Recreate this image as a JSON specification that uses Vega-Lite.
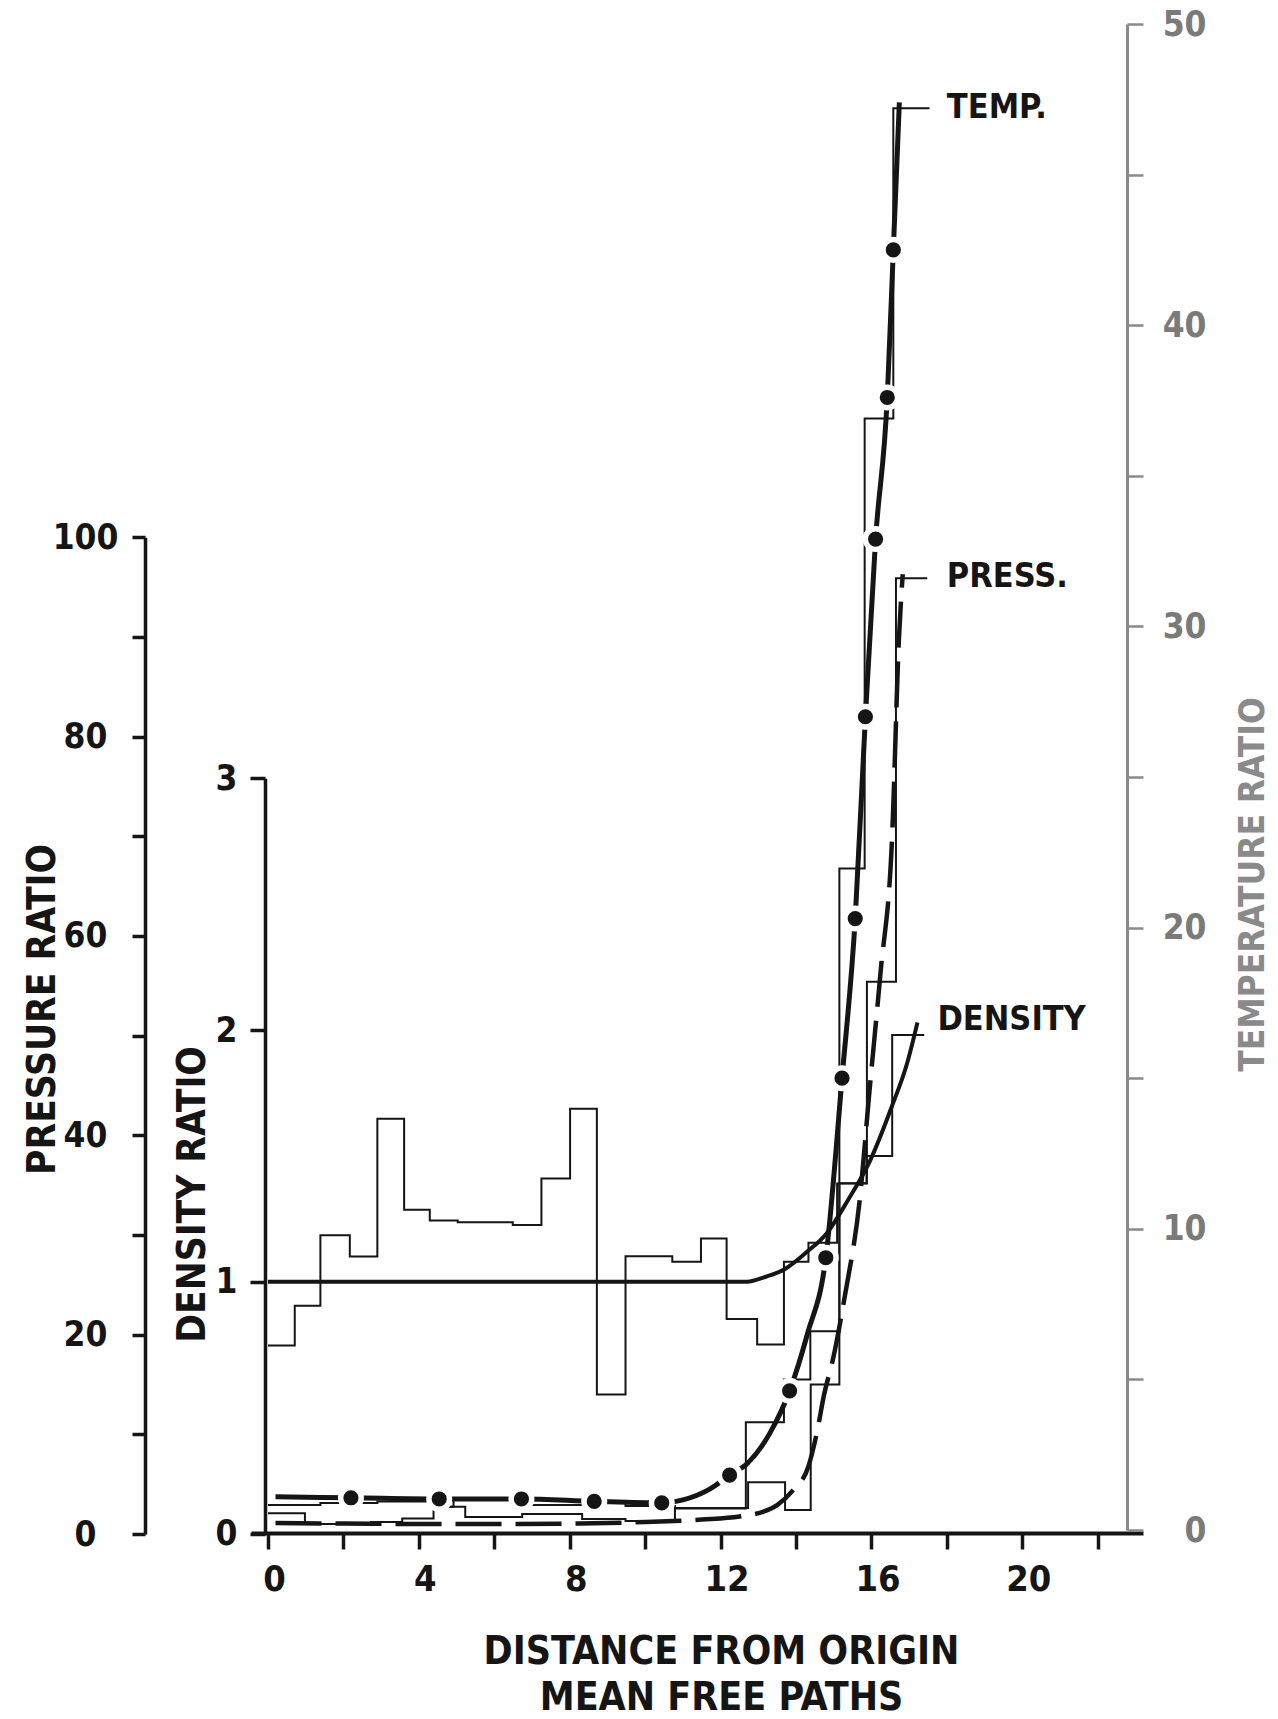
{
  "$schema": "https://vega.github.io/schema/vega-lite/v6.json",
  "width": 859,
  "height": 1509,
  "autosize": {"type": "none"},
  "padding": {"left": 268, "top": 24, "right": 151, "bottom": 186},
  "background": "white",
  "config": {
    "view": {"stroke": null},
    "axis": {"grid": false, "labelFont": "DejaVu Sans Condensed, DejaVu Sans", "titleFont": "DejaVu Sans Condensed, DejaVu Sans", "labelOverlap": false, "labelFlush": false, "labelBound": false},
    "text": {"font": "DejaVu Sans Condensed, DejaVu Sans"}
  },
  "datasets": {
    "densityHist": [
      {"x": 0, "v": 0.747}, {"x": 0.71, "v": 0.905}, {"x": 1.39, "v": 1.185}, {"x": 2.17, "v": 1.10},
      {"x": 2.90, "v": 1.648}, {"x": 3.61, "v": 1.286}, {"x": 4.29, "v": 1.243}, {"x": 5.03, "v": 1.236},
      {"x": 6.49, "v": 1.226}, {"x": 7.25, "v": 1.41}, {"x": 8.01, "v": 1.687}, {"x": 8.72, "v": 0.552},
      {"x": 9.48, "v": 1.101}, {"x": 10.72, "v": 1.08}, {"x": 11.48, "v": 1.172}, {"x": 12.16, "v": 0.852},
      {"x": 12.97, "v": 0.751}, {"x": 13.68, "v": 1.08}, {"x": 14.33, "v": 1.155}, {"x": 15.09, "v": 1.39},
      {"x": 15.87, "v": 1.50}, {"x": 16.55, "v": 1.98}, {"x": 17.4, "v": 1.98}
    ],
    "densityCurve": [
      {"x": 0, "v": 1.0}, {"x": 3, "v": 1.0}, {"x": 6, "v": 1.0}, {"x": 9, "v": 1.0}, {"x": 12, "v": 1.0},
      {"x": 12.7, "v": 1.0}, {"x": 13.2, "v": 1.02}, {"x": 13.7, "v": 1.05}, {"x": 14.3, "v": 1.12},
      {"x": 14.8, "v": 1.19}, {"x": 15.4, "v": 1.33}, {"x": 15.93, "v": 1.47}, {"x": 16.55, "v": 1.70},
      {"x": 16.95, "v": 1.87}, {"x": 17.22, "v": 2.03}
    ],
    "densityLabel": [{"x": 17.75, "v": 2.04, "label": "DENSITY"}],
    "pressureHist": [
      {"x": 0, "v": 2.07}, {"x": 0.98, "v": 1.0}, {"x": 2.73, "v": 1.2}, {"x": 3.56, "v": 1.55},
      {"x": 4.39, "v": 2.74}, {"x": 5.23, "v": 1.7}, {"x": 6.74, "v": 2.0}, {"x": 8.33, "v": 1.5},
      {"x": 9.48, "v": 1.3}, {"x": 10.79, "v": 2.6}, {"x": 12.73, "v": 5.2}, {"x": 13.71, "v": 2.4},
      {"x": 14.39, "v": 15.0}, {"x": 15.15, "v": 35.2}, {"x": 15.88, "v": 55.4}, {"x": 16.65, "v": 95.9},
      {"x": 17.48, "v": 95.9}
    ],
    "pressureCurve": [
      {"x": 0.2, "v": 1.1}, {"x": 2, "v": 1.05}, {"x": 4, "v": 1.0}, {"x": 6, "v": 1.0}, {"x": 8, "v": 1.05},
      {"x": 10, "v": 1.2}, {"x": 11.5, "v": 1.45}, {"x": 12.5, "v": 1.75}, {"x": 13.1, "v": 2.2},
      {"x": 13.5, "v": 2.9}, {"x": 13.9, "v": 4.3}, {"x": 14.33, "v": 6.8}, {"x": 14.56, "v": 10.3},
      {"x": 14.74, "v": 13.9}, {"x": 14.99, "v": 17.7}, {"x": 15.3, "v": 24.0}, {"x": 15.7, "v": 33.9},
      {"x": 15.93, "v": 43.7}, {"x": 16.24, "v": 56.3}, {"x": 16.55, "v": 70.1}, {"x": 16.73, "v": 89.9},
      {"x": 16.83, "v": 96.3}
    ],
    "pressureLabel": [{"x": 18.0, "v": 96.0, "label": "PRESS."}],
    "tempHist": [
      {"x": 0, "v": 0.83}, {"x": 1.39, "v": 0.9}, {"x": 2.9, "v": 0.95}, {"x": 4.39, "v": 0.77},
      {"x": 4.92, "v": 1.0}, {"x": 6.74, "v": 0.83}, {"x": 8.33, "v": 0.9}, {"x": 9.48, "v": 0.8},
      {"x": 10.79, "v": 0.71}, {"x": 12.67, "v": 3.58}, {"x": 13.68, "v": 5.0}, {"x": 14.38, "v": 6.6},
      {"x": 15.15, "v": 21.96}, {"x": 15.82, "v": 36.9}, {"x": 16.58, "v": 47.2}, {"x": 17.54, "v": 47.2}
    ],
    "tempCurve": [
      {"x": 0.2, "v": 1.10}, {"x": 2.2, "v": 1.07}, {"x": 4.54, "v": 1.03}, {"x": 6.72, "v": 1.03},
      {"x": 8.65, "v": 0.95}, {"x": 10.44, "v": 0.9}, {"x": 11.0, "v": 1.0}, {"x": 11.7, "v": 1.35},
      {"x": 12.24, "v": 1.82}, {"x": 12.7, "v": 2.2}, {"x": 13.3, "v": 3.2}, {"x": 13.83, "v": 4.62},
      {"x": 14.3, "v": 6.5}, {"x": 14.79, "v": 9.04}, {"x": 15.22, "v": 15.0}, {"x": 15.57, "v": 20.3},
      {"x": 15.84, "v": 27.0}, {"x": 16.11, "v": 32.9}, {"x": 16.42, "v": 37.6}, {"x": 16.58, "v": 42.5},
      {"x": 16.74, "v": 47.4}
    ],
    "tempPoints": [
      {"x": 2.2, "v": 1.07}, {"x": 4.54, "v": 1.03}, {"x": 6.72, "v": 1.03}, {"x": 8.65, "v": 0.95},
      {"x": 10.44, "v": 0.9}, {"x": 12.24, "v": 1.82}, {"x": 13.83, "v": 4.62}, {"x": 14.79, "v": 9.04},
      {"x": 15.22, "v": 15.0}, {"x": 15.57, "v": 20.3}, {"x": 15.84, "v": 27.0}, {"x": 16.11, "v": 32.9},
      {"x": 16.42, "v": 37.6}, {"x": 16.58, "v": 42.5}
    ],
    "tempLabel": [{"x": 18.0, "v": 47.2, "label": "TEMP."}]
  },
  "encoding": {
    "x": {
      "field": "x",
      "type": "quantitative",
      "scale": {"domain": [-0.45, 23.2], "range": [-17, 875], "nice": false, "zero": false},
      "axis": {
        "orient": "bottom",
        "values": [0, 2, 4, 6, 8, 10, 12, 14, 16, 18, 20, 22],
        "labelExpr": "datum.value % 4 === 0 ? datum.label : ''",
        "domainColor": "#151515",
        "domainWidth": 4,
        "tickColor": "#151515",
        "tickWidth": 3.5,
        "tickSize": 16,
        "labelColor": "#151515",
        "labelFontSize": 36,
        "labelFontWeight": "bold",
        "labelBaseline": "middle",
        "labelPadding": 30,
        "labelOffset": 6,
        "title": ["DISTANCE FROM ORIGIN", "MEAN FREE PATHS"],
        "titleFontSize": 39,
        "titleFontWeight": "bold",
        "titleColor": "#151515",
        "titleX": 453,
        "titleY": 130,
        "titleAlign": "center",
        "titleBaseline": "alphabetic",
        "titleLineHeight": 46
      }
    }
  },
  "layer": [
    {
      "encoding": {
        "y": {
          "field": "v",
          "type": "quantitative",
          "scale": {"domain": [0, 3], "range": [1509.5, 754.3], "nice": false, "zero": false},
          "axis": {
            "orient": "left",
            "offset": 3,
            "values": [0, 1, 2, 3],
            "domainColor": "#151515",
            "domainWidth": 3.5,
            "tickColor": "#151515",
            "tickWidth": 3.5,
            "tickSize": 15,
            "labelColor": "#151515",
            "labelFontSize": 35,
            "labelFontWeight": "bold",
            "labelAlign": "center",
            "labelBaseline": "middle",
            "labelPadding": 24,
            "title": "DENSITY RATIO",
            "titleFontSize": 38.5,
            "titleFontWeight": "bold",
            "titleColor": "#151515",
            "titleAngle": 270,
            "titleX": -73,
            "titleY": 1170,
            "titleAlign": "center",
            "titleBaseline": "middle"
          }
        }
      },
      "layer": [
        {"data": {"name": "densityHist"}, "mark": {"type": "line", "interpolate": "step-after", "color": "#151515", "strokeWidth": 2}},
        {"data": {"name": "densityCurve"}, "mark": {"type": "line", "interpolate": "monotone", "color": "#151515", "strokeWidth": 4}},
        {"data": {"name": "densityLabel"}, "mark": {"type": "text", "align": "left", "baseline": "middle", "fontSize": 34, "fontWeight": "bold", "color": "#151515"}, "encoding": {"text": {"field": "label"}}}
      ]
    },
    {
      "encoding": {
        "y": {
          "field": "v",
          "type": "quantitative",
          "scale": {"domain": [0, 100], "range": [1510, 513.3], "nice": false, "zero": false},
          "axis": {
            "orient": "left",
            "offset": 123,
            "values": [0, 10, 20, 30, 40, 50, 60, 70, 80, 90, 100],
            "labelExpr": "datum.value % 20 === 0 ? datum.label : ''",
            "domainColor": "#151515",
            "domainWidth": 3.5,
            "tickColor": "#151515",
            "tickWidth": 3.5,
            "tickSize": 13,
            "labelColor": "#151515",
            "labelFontSize": 35,
            "labelFontWeight": "bold",
            "labelAlign": "center",
            "labelBaseline": "middle",
            "labelPadding": 47,
            "title": "PRESSURE RATIO",
            "titleFontSize": 38.5,
            "titleFontWeight": "bold",
            "titleColor": "#151515",
            "titleAngle": 270,
            "titleX": -103,
            "titleY": 985,
            "titleAlign": "center",
            "titleBaseline": "middle"
          }
        }
      },
      "layer": [
        {"data": {"name": "pressureHist"}, "mark": {"type": "line", "interpolate": "step-after", "color": "#151515", "strokeWidth": 2}},
        {"data": {"name": "pressureCurve"}, "mark": {"type": "line", "interpolate": "monotone", "color": "#151515", "strokeWidth": 4.5, "strokeDash": [46, 14]}},
        {"data": {"name": "pressureLabel"}, "mark": {"type": "text", "align": "left", "baseline": "middle", "fontSize": 34, "fontWeight": "bold", "color": "#151515"}, "encoding": {"text": {"field": "label"}}}
      ]
    },
    {
      "encoding": {
        "y": {
          "field": "v",
          "type": "quantitative",
          "scale": {"domain": [0, 50], "range": [1506, 0], "nice": false, "zero": false},
          "axis": {
            "orient": "right",
            "offset": 0,
            "values": [0, 5, 10, 15, 20, 25, 30, 35, 40, 45, 50],
            "labelExpr": "datum.value % 10 === 0 ? datum.label : ''",
            "domainColor": "#8a8a8a",
            "domainWidth": 3,
            "tickColor": "#8a8a8a",
            "tickWidth": 2.5,
            "tickSize": 16,
            "labelColor": "#7a7a7a",
            "labelFontSize": 35,
            "labelFontWeight": "bold",
            "labelAlign": "right",
            "labelBaseline": "middle",
            "labelPadding": 63,
            "title": "TEMPERATURE RATIO",
            "titleFontSize": 35,
            "titleFontWeight": "bold",
            "titleColor": "#8a8a8a",
            "titleAngle": 270,
            "titleX": 125,
            "titleY": 860,
            "titleAlign": "center",
            "titleBaseline": "middle"
          }
        }
      },
      "layer": [
        {"data": {"name": "tempHist"}, "mark": {"type": "line", "interpolate": "step-after", "color": "#151515", "strokeWidth": 2}},
        {"data": {"name": "tempCurve"}, "mark": {"type": "line", "interpolate": "monotone", "color": "#151515", "strokeWidth": 5}},
        {"data": {"name": "tempPoints"}, "mark": {"type": "circle", "size": 680, "color": "white", "opacity": 1}},
        {"data": {"name": "tempPoints"}, "mark": {"type": "circle", "size": 230, "color": "#151515", "opacity": 1}},
        {"data": {"name": "tempLabel"}, "mark": {"type": "text", "align": "left", "baseline": "middle", "fontSize": 34, "fontWeight": "bold", "color": "#151515"}, "encoding": {"text": {"field": "label"}}}
      ]
    }
  ],
  "resolve": {"scale": {"y": "independent"}, "axis": {"y": "independent"}}
}
